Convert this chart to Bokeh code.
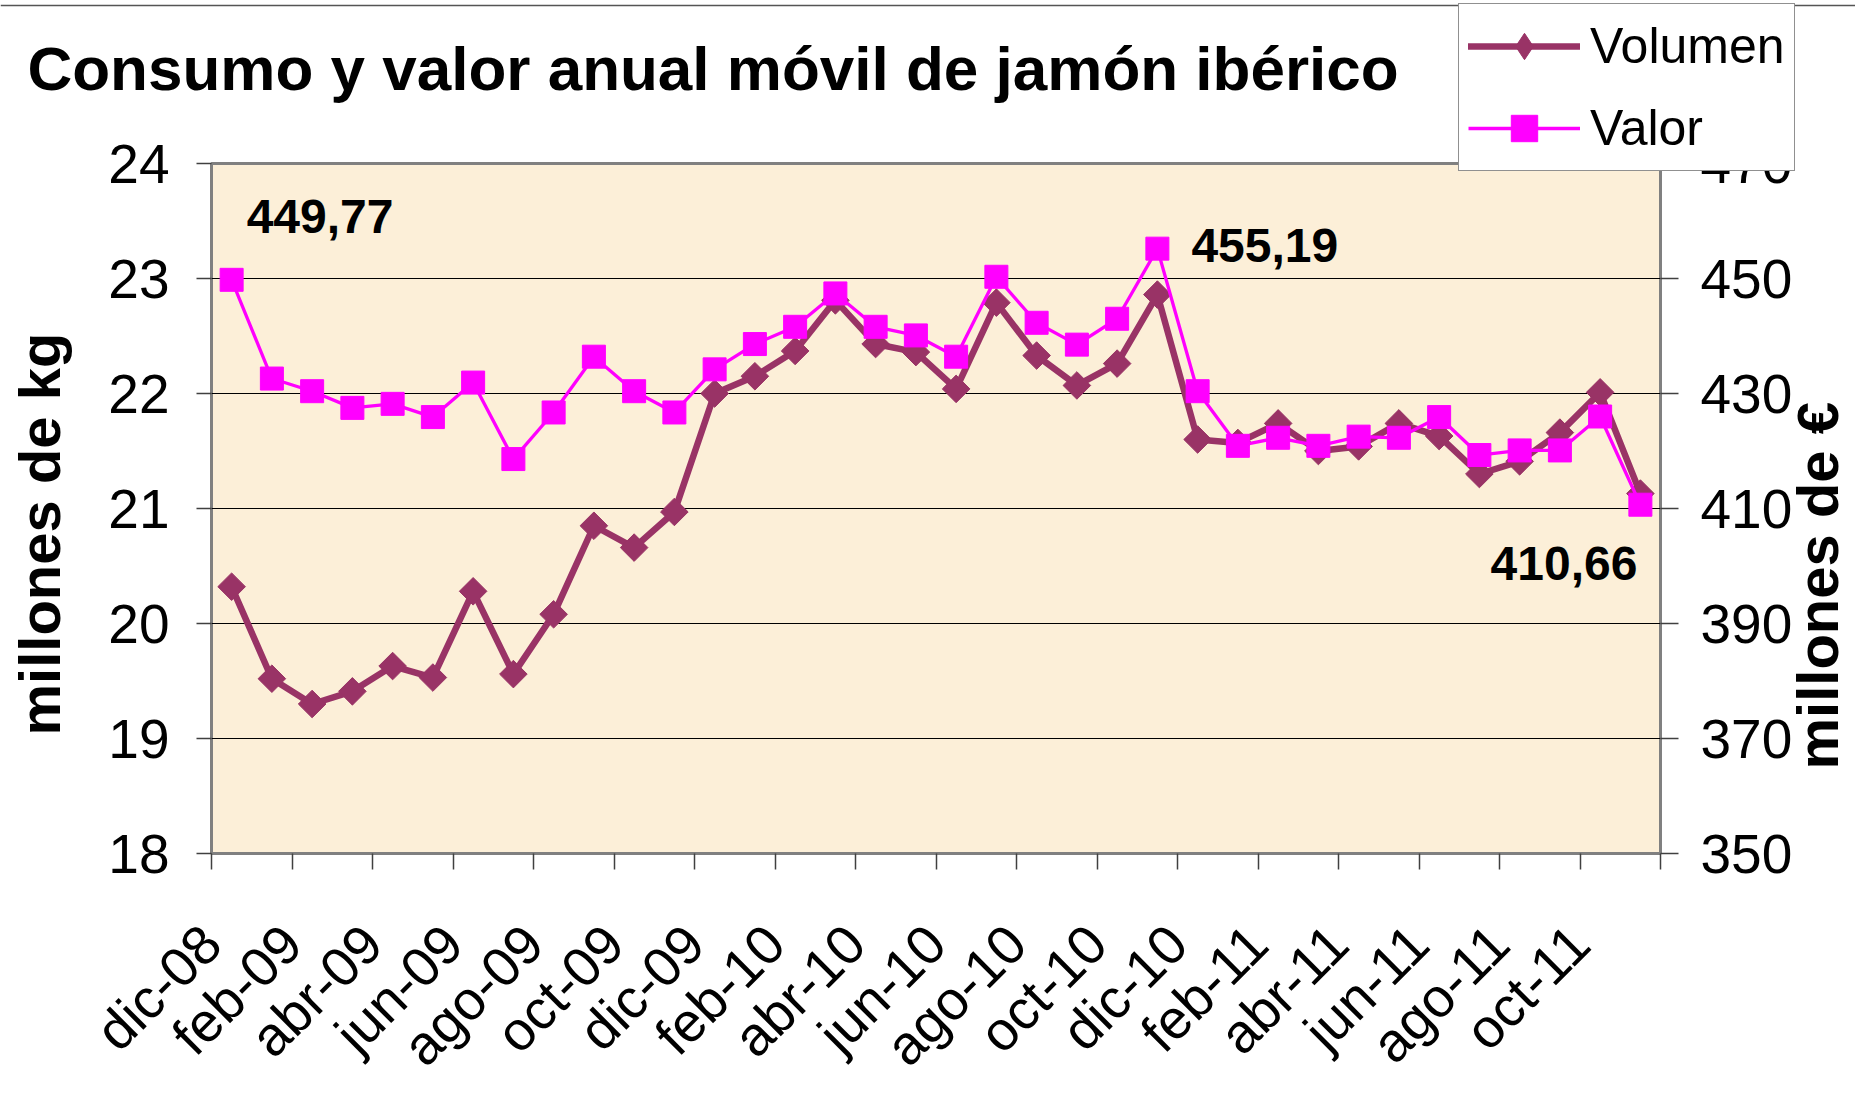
from math import pi
from bokeh.plotting import figure
from bokeh.layouts import column
from bokeh.models import (Range1d, LinearAxis, FixedTicker, Legend, LegendItem,
                          Label, Span, ColumnDataSource)
from bokeh.embed import file_html
from bokeh.resources import INLINE

# ---------------- data ----------------
months = ["dic-08", "ene-09", "feb-09", "mar-09", "abr-09", "may-09", "jun-09",
          "jul-09", "ago-09", "sep-09", "oct-09", "nov-09", "dic-09", "ene-10",
          "feb-10", "mar-10", "abr-10", "may-10", "jun-10", "jul-10", "ago-10",
          "sep-10", "oct-10", "nov-10", "dic-10", "ene-11", "feb-11", "mar-11",
          "abr-11", "may-11", "jun-11", "jul-11", "ago-11", "sep-11", "oct-11",
          "nov-11"]

volumen = [20.32, 19.52, 19.30, 19.41, 19.63, 19.53, 20.28, 19.56, 20.08, 20.85,
           20.66, 20.97, 22.00, 22.15, 22.37, 22.81, 22.43, 22.36, 22.04, 22.79,
           22.33, 22.07, 22.26, 22.86, 21.60, 21.57, 21.74, 21.50, 21.54, 21.74,
           21.63, 21.30, 21.41, 21.66, 22.01, 21.13]

valor = [449.77, 432.6, 430.4, 427.5, 428.2, 425.9, 431.9, 418.6, 426.7, 436.4,
         430.4, 426.7, 434.2, 438.6, 441.6, 447.4, 441.6, 440.1, 436.4, 450.3,
         442.3, 438.5, 443.0, 455.19, 430.4, 420.9, 422.3, 420.9, 422.5, 422.3,
         425.9, 419.3, 420.1, 420.1, 426.0, 410.66]

tick_labels = ["dic-08", "feb-09", "abr-09", "jun-09", "ago-09", "oct-09",
               "dic-09", "feb-10", "abr-10", "jun-10", "ago-10", "oct-10",
               "dic-10", "feb-11", "abr-11", "jun-11", "ago-11", "oct-11"]

left_ticks = [18, 19, 20, 21, 22, 23, 24]
right_ticks = [350, 370, 390, 410, 430, 450, 470]

title_text = "Consumo y valor anual móvil de jamón ibérico"
left_title = "millones de kg"
right_title = "millones de €"
series_names = ["Volumen", "Valor"]

# ---------------- styling ----------------
FONT = "Liberation Sans"
C_VOL = "#993366"
C_VAL = "#FF00FF"
PAGE_W, PAGE_H = 1860, 1100

x = list(range(len(months)))
src = ColumnDataSource(dict(x=x, month=months, vol=volumen, val=valor))

p = figure(frame_width=1449, frame_height=690, title=None,
           x_range=Range1d(-0.5, len(months) - 0.5),
           y_range=Range1d(left_ticks[0], left_ticks[-1]),
           output_backend="svg", toolbar_location=None, tools="",
           min_border_left=211, min_border_right=195,
           min_border_top=163, min_border_bottom=240,
           background_fill_color="#FCEFD8", border_fill_color="white",
           outline_line_color="#808080", outline_line_width=3)
p.extra_y_ranges = {"val": Range1d(right_ticks[0], right_ticks[-1])}

# x axis: tick marks between pairs of months, a label every two months
label_pos = [months.index(m) - 0.5 for m in tick_labels]
mark_pos = label_pos + [len(months) - 0.5]
xa = p.xaxis[0]
xa.ticker = FixedTicker(ticks=mark_pos, minor_ticks=[])
overrides = {pos: lab for pos, lab in zip(label_pos, tick_labels)}
overrides[len(months) - 0.5] = ""
xa.major_label_overrides = overrides
xa.major_tick_out = 16
xa.major_tick_in = 0
xa.minor_tick_out = 0
xa.minor_tick_in = 0
xa.major_tick_line_color = "#404040"
xa.major_tick_line_width = 1.5
xa.axis_line_color = None
xa.major_label_orientation = pi / 4
xa.major_label_standoff = 65
xa.major_label_text_font = FONT
xa.major_label_text_font_size = "55px"
xa.major_label_text_color = "black"

ya = p.yaxis[0]
ya.ticker = FixedTicker(ticks=left_ticks)
ya.major_tick_out = 15
ya.major_tick_in = 0
ya.minor_tick_out = 0
ya.minor_tick_in = 0
ya.major_tick_line_color = "#404040"
ya.major_tick_line_width = 1.5
ya.axis_line_color = None
ya.major_label_standoff = 27
ya.major_label_text_font = FONT
ya.major_label_text_font_size = "55px"
ya.major_label_text_color = "black"

ra = LinearAxis(y_range_name="val", ticker=FixedTicker(ticks=right_ticks))
ra.major_tick_out = 18
ra.major_tick_in = 0
ra.minor_tick_out = 0
ra.minor_tick_in = 0
ra.major_tick_line_color = "#404040"
ra.major_tick_line_width = 1.5
ra.axis_line_color = None
ra.major_label_standoff = 22
ra.major_label_text_font = FONT
ra.major_label_text_font_size = "55px"
ra.major_label_text_color = "black"
p.add_layout(ra, "right")

p.xgrid.visible = False
p.ygrid.grid_line_color = "black"
p.ygrid.grid_line_width = 1

# ---------------- series ----------------
vol_line = p.line("x", "vol", source=src, line_color=C_VOL, line_width=6.5,
                  line_join="round", line_cap="round")
vol_pts = p.scatter("x", "vol", source=src, marker="square", angle=pi / 4,
                    size=19.5, fill_color=C_VOL, line_color=C_VOL)
val_line = p.line("x", "val", source=src, y_range_name="val", line_color=C_VAL,
                  line_width=3.3)
val_pts = p.scatter("x", "val", source=src, y_range_name="val", marker="square",
                    size=23, fill_color=C_VAL, line_color=C_VAL)

def fmt(v):
    return f"{v:.2f}".replace(".", ",")

i_max = valor.index(max(valor))
for idx, xo, yo, align in [(0, 15, 63, "left"),
                           (i_max, 34, 3, "left"),
                           (len(valor) - 1, -3, -59, "right")]:
    p.add_layout(Label(x=idx, y=valor[idx], y_range_name="val",
                       x_offset=xo, y_offset=yo, text=fmt(valor[idx]),
                       text_align=align, text_baseline="alphabetic",
                       text_font=FONT, text_font_size="48px",
                       text_font_style="bold", text_color="black"))

# ---------------- overlay: page-sized transparent plot (pixel units) ----------
# holds the texts and legend that sit outside the plotting area
q = figure(width=PAGE_W, height=PAGE_H, title=None,
           x_range=Range1d(0, PAGE_W), y_range=Range1d(PAGE_H, 0),
           x_axis_type=None, y_axis_type=None,
           output_backend="svg", toolbar_location=None, tools="",
           min_border=0, background_fill_alpha=0, border_fill_alpha=0,
           outline_line_color=None,
           styles={"position": "absolute", "top": "0px", "left": "0px",
                   "z-index": "10"})
for plot in (p, q):
    try:
        plot.frame_align = False
    except Exception:
        pass

q.add_layout(Span(location=5, dimension="width", line_color="#555555",
                  line_width=1.5))

q.add_layout(Label(x=27, y=68, text=title_text, text_align="left",
                   text_baseline="alphabetic", text_font=FONT,
                   text_font_size="62px", text_font_style="bold",
                   text_color="black"))
q.add_layout(Label(x=39, y=735, text=left_title, angle=pi / 2,
                   text_align="left", text_baseline="alphabetic",
                   text_font=FONT, text_font_size="58px",
                   text_font_style="bold", text_color="black"))
q.add_layout(Label(x=1822, y=769, text=right_title, angle=pi / 2,
                   text_align="left", text_baseline="alphabetic",
                   text_font=FONT, text_font_size="58px",
                   text_font_style="bold", text_color="black"))

# legend keys: same series styles, drawn on an off-page range so only the
# legend shows them
q.extra_y_ranges = {"off": Range1d(5000, 5001)}
k_vol_line = q.line("x", "vol", source=src, y_range_name="off", line_color=C_VOL,
                    line_width=6.5, line_cap="round")
k_vol_mark = q.scatter("x", "vol", source=src, y_range_name="off", marker="diamond",
                       size=26, fill_color=C_VOL, line_color=C_VOL)
k_val_line = q.line("x", "val", source=src, y_range_name="off", line_color=C_VAL,
                    line_width=3.3)
k_val_mark = q.scatter("x", "val", source=src, y_range_name="off", marker="square",
                       size=23, fill_color=C_VAL, line_color=C_VAL)

LEG_PAD, LEG_GH, LEG_SP, LEG_TOP = 9, 66, 16, 5
leg_h = 2 * LEG_PAD + 2 * LEG_GH + LEG_SP
legend = Legend(items=[LegendItem(label=series_names[0], renderers=[k_vol_line, k_vol_mark]),
                       LegendItem(label=series_names[1], renderers=[k_val_line, k_val_mark])],
                location=(1458, PAGE_H - LEG_TOP - leg_h), orientation="vertical",
                glyph_width=112, glyph_height=LEG_GH, label_standoff=10,
                padding=LEG_PAD, spacing=LEG_SP, margin=0,
                label_text_font=FONT, label_text_font_size="50px",
                label_text_color="black",
                border_line_color="#222222", border_line_width=1.5,
                background_fill_color="white", background_fill_alpha=1.0,
                inactive_fill_alpha=0.0)
q.add_layout(legend)

page = column(p, q)
open("out.html", "w").write(file_html(page, INLINE))
